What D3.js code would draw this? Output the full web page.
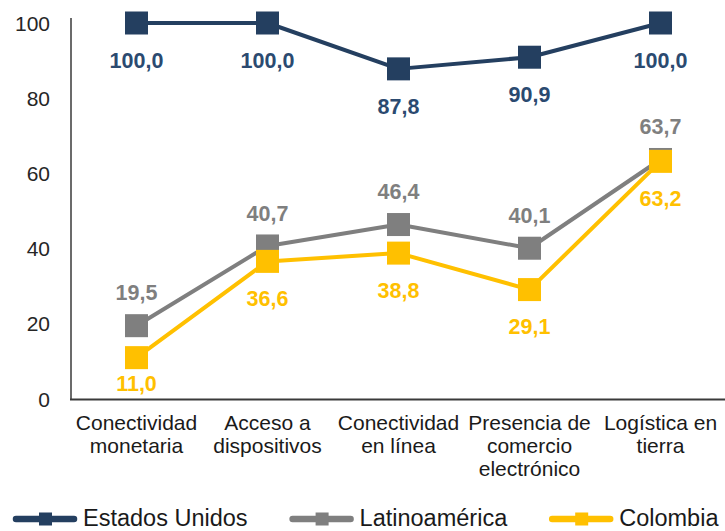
<!DOCTYPE html>
<html>
<head>
<meta charset="utf-8">
<script src="https://cdn.jsdelivr.net/npm/d3@7"></script>
<style>
  html, body { margin: 0; padding: 0; background: #fff; }
  svg { display: block; font-family: "Liberation Sans", Arial, sans-serif; }
</style>
</head>
<body>
<div id="chart"></div>
<script>
// categories (multi-line labels)
const categories = [
  ['Conectividad', 'monetaria'],
  ['Acceso a', 'dispositivos'],
  ['Conectividad', 'en línea'],
  ['Presencia de', 'comercio', 'electrónico'],
  ['Logística en', 'tierra']
];
const seriesNames = ['Estados Unidos', 'Latinoamérica', 'Colombia'];
const usValues = [100.0, 100.0, 87.8, 90.9, 100.0];
const latamValues = [19.5, 40.7, 46.4, 40.1, 63.7];
const colombiaValues = [11.0, 36.6, 38.8, 29.1, 63.2];
const yTicks = [0, 20, 40, 60, 80, 100];

const width = 725;
const height = 531;

const series = [
  { name: seriesNames[0], values: usValues, color: '#243f60', labelColor: '#2b4a70', labelPos: 'below' },
  { name: seriesNames[1], values: latamValues, color: '#7f7f7f', labelColor: '#7f7f7f', labelPos: 'above' },
  { name: seriesNames[2], values: colombiaValues, color: '#ffc000', labelColor: '#ffc000', labelPos: 'below' }
];

const svg = d3.select('#chart').append('svg')
  .attr('width', width)
  .attr('height', height);

const x = d3.scaleBand()
  .domain(d3.range(categories.length))
  .range([71, 726]);

const y = d3.scaleLinear()
  .domain([0, 100])
  .range([399, 23]);

// axes lines
svg.append('line')
  .attr('x1', 71).attr('x2', 71)
  .attr('y1', 18).attr('y2', 400)
  .attr('stroke', '#3a3a3a').attr('stroke-width', 1.5);
svg.append('line')
  .attr('x1', 70).attr('x2', 725)
  .attr('y1', 399.5).attr('y2', 399.5)
  .attr('stroke', '#3a3a3a').attr('stroke-width', 2);

// y tick labels
svg.append('g').selectAll('text')
  .data(yTicks)
  .enter().append('text')
  .attr('x', 50)
  .attr('y', d => y(d))
  .attr('dy', '0.36em')
  .attr('text-anchor', 'end')
  .attr('font-size', 21)
  .attr('fill', '#262626')
  .text(d => d);

// category labels
const catG = svg.append('g');
categories.forEach((lines, i) => {
  const t = catG.append('text')
    .attr('x', x(i) + x.bandwidth() / 2)
    .attr('y', 430)
    .attr('text-anchor', 'middle')
    .attr('font-size', 21)
    .attr('fill', '#1a1a1a');
  lines.forEach((ln, j) => {
    t.append('tspan')
      .attr('x', x(i) + x.bandwidth() / 2)
      .attr('y', 430 + j * 23)
      .text(ln);
  });
});

const cx = i => x(i) + x.bandwidth() / 2;
const line = d3.line()
  .x((d, i) => cx(i))
  .y(d => y(d));

const markerSize = 23;

series.forEach(s => {
  const g = svg.append('g');
  g.append('path')
    .datum(s.values)
    .attr('d', line)
    .attr('fill', 'none')
    .attr('stroke', s.color)
    .attr('stroke-width', 4)
    .attr('stroke-linejoin', 'round');
  g.selectAll('rect')
    .data(s.values)
    .enter().append('rect')
    .attr('x', (d, i) => cx(i) - markerSize / 2)
    .attr('y', d => y(d) - markerSize / 2)
    .attr('width', markerSize)
    .attr('height', markerSize)
    .attr('fill', s.color);
});

// data labels on top
series.forEach(s => {
  svg.append('g').selectAll('text')
    .data(s.values)
    .enter().append('text')
    .attr('x', (d, i) => cx(i))
    .attr('y', d => s.labelPos === 'below' ? Math.min(y(d) + 37, 383) : y(d) - 33)
    .attr('dy', '0.36em')
    .attr('text-anchor', 'middle')
    .attr('font-size', 21.5)
    .attr('font-weight', 'bold')
    .attr('fill', s.labelColor)
    .text(d => d3.format('.1f')(d).replace('.', ','));
});

// legend
const legend = svg.append('g');
let lx = 13;
series.forEach(s => {
  const item = legend.append('g');
  item.append('line')
    .attr('x1', lx + 3).attr('x2', lx + 61)
    .attr('y1', 519).attr('y2', 519)
    .attr('stroke', s.color)
    .attr('stroke-width', 6.5)
    .attr('stroke-linecap', 'round');
  item.append('rect')
    .attr('x', lx + 26).attr('y', 512.5)
    .attr('width', 13).attr('height', 13)
    .attr('fill', s.color);
  const t = item.append('text')
    .attr('x', lx + 70)
    .attr('y', 526)
    .attr('font-size', 23.5)
    .attr('fill', '#1a1a1a')
    .text(s.name);
  lx = lx + 70 + t.node().getComputedTextLength() + 42;
});
</script>
</body>
</html>
